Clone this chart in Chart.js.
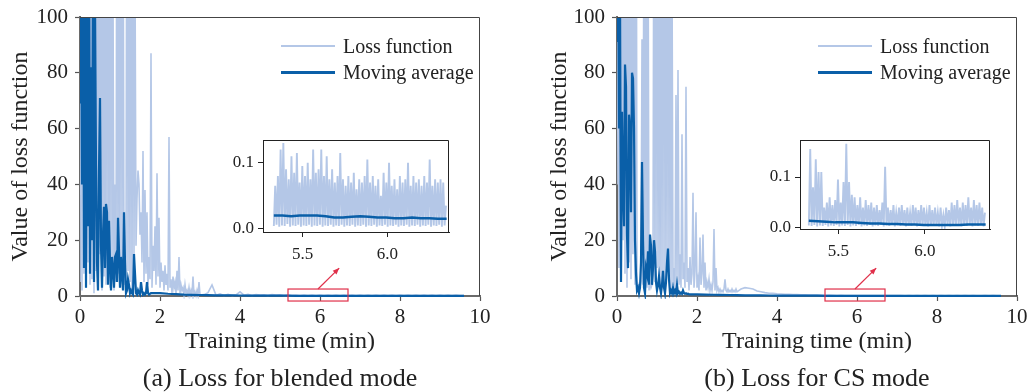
<!DOCTYPE html>
<html>
<head>
<meta charset="utf-8">
<script src="https://cdn.jsdelivr.net/npm/chart.js@4.4.1/dist/chart.umd.min.js"></script>
<style>
  body { margin: 0; background: #fff; }
  #wrap { position: relative; width: 1029px; height: 392px; overflow: hidden; font-family: 'Liberation Serif', 'Times New Roman', serif; color: #222; }
  canvas { position: absolute; }
  .leg { position: absolute; display: flex; align-items: center; height: 26px; font-size: 20px; white-space: nowrap; }
  .leg span.ln { display: inline-block; width: 54px; margin-right: 8px; }
  .cap { position: absolute; top: 364px; width: 400px; text-align: center; font-size: 26px; line-height: 28px; white-space: nowrap; }
</style>
</head>
<body>
<div id="wrap">
  <canvas id="mainA" width="510" height="392" style="left:0;top:0"></canvas>
  <canvas id="mainB" width="492" height="392" style="left:537px;top:0"></canvas>
  <canvas id="insetA" width="236" height="136" style="left:222px;top:132px"></canvas>
  <canvas id="insetB" width="240" height="136" style="left:759px;top:132px"></canvas>

  <div class="leg" style="left:281px;top:33px"><span class="ln" style="height:1.5px;background:#b4c7e7"></span>Loss function</div>
  <div class="leg" style="left:281px;top:59px"><span class="ln" style="height:3px;background:#0a5fa8"></span>Moving average</div>
  <div class="leg" style="left:818px;top:33px"><span class="ln" style="height:1.5px;background:#b4c7e7"></span>Loss function</div>
  <div class="leg" style="left:818px;top:59px"><span class="ln" style="height:3px;background:#0a5fa8"></span>Moving average</div>

  <div class="cap" style="left:80px">(a) Loss for blended mode</div>
  <div class="cap" style="left:617px">(b) Loss for CS mode</div>
</div>
<script>
// ---- data (training time in minutes, loss values) ----
// dense part: samples every 0.025 min from t = 0
const denseStart = 0;
const denseStep = 0.025;
// tail of the loss curves: every 0.1 min from 3.1 min
const lossTailStart = 3.1;
const lossTailStep = 0.1;
// tail of the moving averages: every 0.2 min from 2.0 min
const avgTailStart = 2.0;
const avgTailStep = 0.2;

const lossA = [
  5, 180, 2, 240, 8, 150, 3, 210, 12, 320, 4, 190, 6, 260, 1, 170, 9, 230, 3, 140,
  15, 280, 2, 200, 7, 160, 4, 250, 10, 130, 3, 220, 6, 110, 2, 40, 5, 190, 8, 150,
  3, 240, 12, 170, 4, 8, 6, 210, 9, 130, 5, 180, 2, 160, 14, 120,
  18, 35, 45, 40, 22, 30, 12, 52, 5, 38, 8, 30, 4, 14, 6, 87, 3, 18, 9, 25,
  4, 44, 7, 28, 3, 12, 5, 9, 2, 11, 4, 8, 2, 57, 3, 6, 1, 7, 3, 5,
  1, 9, 2, 14, 1, 4, 2, 3, 0.5, 4, 1, 2, 0.5, 3, 0.3, 2, 0.5, 7, 0.3, 1.5,
  0.2, 2, 0.3, 5, 0.3
];
const lossTailA = [
  0.5, 1.2, 4, 0.3, 0.8, 0.2, 0.6, 0.2, 0.4, 1.5,
  0.3, 0.6, 0.2, 0.5, 0.3, 0.4, 0.2, 0.5, 0.3, 0.4,
  0.2, 0.3, 0.2, 0.3, 0.2, 0.3, 0.2, 0.3, 0.2, 0.3,
  0.2, 0.3, 0.2, 0.3, 0.2, 0.3, 0.2, 0.3, 0.2, 0.3,
  0.2, 0.3, 0.2, 0.3, 0.2, 0.3, 0.2, 0.3, 0.2, 0.3,
  0.2, 0.3, 0.2, 0.3, 0.2, 0.3, 0.2, 0.3, 0.2, 0.3,
  0.2, 0.3, 0.2, 0.3, 0.2, 0.2
];
const avgA = [
  69, 120, 40, 150, 10, 130, 3, 110, 25, 140,
  8, 82, 20, 120, 5, 105, 47, 12, 2, 45,
  71, 18, 3, 22, 32, 10, 33, 30, 4, 27,
  12, 2, 14, 10, 3, 14, 15, 5, 28, 16,
  3, 14, 8, 2, 30, 12, 1, 2, 6, 4,
  1, 2, 1, 0.5, 15, 8, 1, 0.5, 2, 1,
  0.5, 5, 2, 0.5, 1, 0.5, 1, 5, 1, 0.5,
  0.8, 1, 1
];
const avgTailA = [
  1.0, 0.8, 0.7, 0.5, 0.4, 0.35, 0.3, 0.25, 0.2, 0.2,
  0.18, 0.15, 0.15, 0.12, 0.1, 0.1, 0.1, 0.08, 0.08, 0.08,
  0.07, 0.07, 0.06, 0.06, 0.06, 0.05, 0.05, 0.05, 0.05, 0.04,
  0.04, 0.04, 0.04, 0.03, 0.03, 0.03, 0.03, 0.03, 0.03
];

const lossB = [
  40, 200, 10, 260, 5, 180, 20, 300, 8, 210, 3, 170, 12, 240, 6, 190, 15, 150, 4, 220,
  3, 2, 4, 3, 5, 92, 4, 160, 6, 230, 3, 140, 2, 5, 3, 4, 8, 180, 5, 250,
  10, 170, 4, 130, 3, 200, 9, 260, 4, 150, 12, 210, 6, 170, 3, 120,
  4, 10, 3, 72, 5, 81, 4, 15, 3, 58, 6, 12, 3, 75, 5, 10, 2, 14, 4, 8,
  37, 3, 9, 30, 3, 6, 2, 21, 4, 8, 22, 3, 12, 2, 5, 3, 6, 2, 4, 2,
  5, 24, 2, 10, 2, 3, 1.5, 2.5, 1.5, 2, 1.5, 2.5, 6, 2, 1.5, 2.5, 1.5, 2, 1.5, 2.5,
  1.5, 2, 1.5, 2.5, 1.5
];
const lossTailB = [
  2.5, 3, 2.8, 2.5, 1.8, 1.5, 1.2, 1.0, 1.0, 0.8,
  0.7, 0.6, 0.6, 0.5, 0.5, 0.4, 0.4, 0.35, 0.3, 0.3,
  0.3, 0.25, 0.3, 0.25, 0.2, 0.25, 0.2, 0.2, 0.2, 0.2,
  0.2, 0.15, 0.2, 0.15, 0.2, 0.15, 0.2, 0.15, 0.2, 0.15,
  0.15, 0.1, 0.15, 0.1, 0.15, 0.1, 0.15, 0.1, 0.15, 0.1,
  0.15, 0.1, 0.15, 0.1, 0.15, 0.1, 0.15, 0.1, 0.15, 0.1,
  0.1, 0.15, 0.1, 0.15, 0.1, 0.1
];
const avgB = [
  91, 130, 60, 110, 5, 66, 40, 25, 83, 75,
  22, 10, 65, 60, 30, 80, 78, 60, 20, 8,
  2, 3, 1, 3, 12, 48, 20, 3, 1, 10,
  8, 16, 4, 22, 18, 4, 10, 20, 16, 5,
  2, 4, 7, 3, 1, 4, 9, 3, 1, 5,
  12, 17, 6, 1, 2, 1, 3, 1, 2, 1,
  4, 1, 1.5, 0.8, 1.2, 0.8, 2, 1, 0.8, 1,
  0.7, 0.8, 0.6
];
const avgTailB = [
  0.6, 0.5, 0.45, 0.4, 0.35, 0.3, 0.25, 0.2, 0.2, 0.18,
  0.15, 0.15, 0.12, 0.1, 0.1, 0.1, 0.08, 0.08, 0.08, 0.07,
  0.07, 0.06, 0.06, 0.06, 0.05, 0.05, 0.05, 0.05, 0.04, 0.04,
  0.04, 0.04, 0.03, 0.03, 0.03, 0.03, 0.03, 0.03, 0.03
];

// zoomed window 5.33 - 6.35 min
const insetStart = 5.33;
const insetStep = 0.008;
const insetAvgStep = 0.051;
const insetLossA = [
  0.004, 0.065, 0.006, 0.08, 0.003, 0.12, 0.005, 0.13, 0.004, 0.09, 0.007, 0.075, 0.003, 0.11, 0.005, 0.085,
  0.004, 0.115, 0.006, 0.07, 0.003, 0.095, 0.005, 0.08, 0.004, 0.1, 0.006, 0.075, 0.003, 0.12, 0.005, 0.085,
  0.004, 0.09, 0.006, 0.12, 0.003, 0.08, 0.005, 0.11, 0.004, 0.075, 0.006, 0.09, 0.003, 0.07, 0.005, 0.08,
  0.004, 0.115, 0.006, 0.075, 0.003, 0.065, 0.005, 0.08, 0.004, 0.07, 0.006, 0.085, 0.003, 0.06, 0.005, 0.075,
  0.004, 0.07, 0.006, 0.08, 0.003, 0.105, 0.005, 0.07, 0.004, 0.08, 0.006, 0.065, 0.003, 0.075, 0.005, 0.05,
  0.004, 0.085, 0.006, 0.07, 0.003, 0.1, 0.005, 0.065, 0.004, 0.075, 0.006, 0.06, 0.003, 0.08, 0.005, 0.07,
  0.004, 0.075, 0.006, 0.1, 0.003, 0.065, 0.005, 0.08, 0.004, 0.07, 0.006, 0.075, 0.003, 0.065, 0.005, 0.08,
  0.004, 0.07, 0.006, 0.105, 0.003, 0.065, 0.005, 0.075, 0.004, 0.07, 0.006, 0.075, 0.003, 0.07, 0.005, 0.035
];
const insetAvgA = [
  0.020, 0.020, 0.019, 0.020, 0.020, 0.020, 0.019, 0.017, 0.017, 0.018, 0.019,
  0.018, 0.017, 0.017, 0.016, 0.016, 0.017, 0.016, 0.016, 0.015, 0.015
];
const insetLossB = [
  0.005, 0.155, 0.004, 0.08, 0.006, 0.135, 0.003, 0.11, 0.005, 0.11, 0.004, 0.04, 0.006, 0.05, 0.003, 0.06,
  0.005, 0.045, 0.004, 0.055, 0.006, 0.095, 0.003, 0.05, 0.005, 0.09, 0.004, 0.165, 0.006, 0.09, 0.003, 0.065,
  0.005, 0.06, 0.004, 0.045, 0.006, 0.06, 0.003, 0.04, 0.005, 0.055, 0.004, 0.045, 0.006, 0.05, 0.003, 0.04,
  0.005, 0.045, 0.004, 0.035, 0.006, 0.05, 0.003, 0.12, 0.005, 0.04, 0.004, 0.035, 0.006, 0.045, 0.003, 0.03,
  0.005, 0.04, 0.004, 0.045, 0.006, 0.035, 0.003, 0.04, 0.005, 0.03, 0.004, 0.045, 0.006, 0.04, 0.003, 0.035,
  0.005, 0.045, 0.004, 0.04, 0.006, 0.03, 0.003, 0.045, 0.005, 0.035, 0.004, 0.04, 0.006, 0.03, 0.003, 0.04,
  0.005, 0.025, 0.004, 0.04, 0.006, 0.035, 0.003, 0.05, 0.005, 0.045, 0.004, 0.055, 0.006, 0.04, 0.003, 0.05,
  0.005, 0.045, 0.004, 0.06, 0.006, 0.04, 0.003, 0.055, 0.005, 0.045, 0.004, 0.05, 0.006, 0.04, 0.003, 0.03
];
const insetAvgB = [
  0.014, 0.013, 0.012, 0.011, 0.011, 0.011, 0.010, 0.009, 0.009, 0.008, 0.008,
  0.007, 0.007, 0.006, 0.006, 0.006, 0.006, 0.006, 0.007, 0.007, 0.007
];

const xTicksMain = [0, 2, 4, 6, 8, 10];
const yTicksMain = [0, 20, 40, 60, 80, 100];
const xTicksInset = [5.5, 6.0];
const yTicksInset = [0.0, 0.1];
const zoomWindow = [5.2, 6.7];

// ---- styling ----
const FONT = "'Liberation Serif', 'Times New Roman', serif";
const LIGHT = '#b4c7e7';
const DARK = '#0a5fa8';
const INK = '#222';
Chart.defaults.font.family = FONT;
Chart.defaults.color = INK;

function toPoints(start, step, values) {
  return values.map((v, i) => ({ x: start + i * step, y: v }));
}

// stop Chart.js from reserving room for half tick labels
function noEdgePadding(s) {
  s.paddingTop = 0; s.paddingBottom = 0; s.paddingLeft = 0; s.paddingRight = 0;
}

// top and right edges of the axes box
const frame = {
  id: 'frame',
  beforeDraw(chart, args, opts) {
    if (!opts.fill) return;
    const a = chart.chartArea;
    chart.ctx.save();
    chart.ctx.fillStyle = '#fff';
    chart.ctx.fillRect(a.left, a.top, a.right - a.left, a.bottom - a.top);
    chart.ctx.restore();
  },
  afterDraw(chart, args, opts) {
    const a = chart.chartArea;
    const ctx = chart.ctx;
    ctx.save();
    ctx.strokeStyle = opts.color || '#444';
    ctx.lineWidth = opts.width || 1;
    ctx.beginPath();
    ctx.moveTo(a.left, a.top + 0.5);
    ctx.lineTo(a.right - 0.5, a.top + 0.5);
    ctx.lineTo(a.right - 0.5, a.bottom);
    ctx.stroke();
    ctx.restore();
  }
};

// red box around the zoomed window and the arrow pointing to the inset
const zoomMark = {
  id: 'zoomMark',
  afterDraw(chart) {
    const xs = chart.scales.x, ys = chart.scales.y;
    const ctx = chart.ctx;
    const x0 = xs.getPixelForValue(zoomWindow[0]);
    const x1 = xs.getPixelForValue(zoomWindow[1]);
    const y0 = ys.getPixelForValue(2.5);
    const y1 = ys.getPixelForValue(-1.8);
    ctx.save();
    ctx.strokeStyle = '#e0304a';
    ctx.fillStyle = '#e0304a';
    ctx.lineWidth = 1.2;
    ctx.strokeRect(x0, y0, x1 - x0, y1 - y0);
    const ax = xs.getPixelForValue(5.95), ay = y0;
    const bx = xs.getPixelForValue(6.48), by = ys.getPixelForValue(10);
    ctx.beginPath();
    ctx.moveTo(ax, ay);
    ctx.lineTo(bx, by);
    ctx.stroke();
    const ang = Math.atan2(by - ay, bx - ax);
    ctx.beginPath();
    ctx.moveTo(bx, by);
    ctx.lineTo(bx - 7 * Math.cos(ang - 0.4), by - 7 * Math.sin(ang - 0.4));
    ctx.lineTo(bx - 7 * Math.cos(ang + 0.4), by - 7 * Math.sin(ang + 0.4));
    ctx.closePath();
    ctx.fill();
    ctx.restore();
  }
};

function mainChart(id, loss, lossTail, avg, avgTail, padRight, titleOffset) {
  const ctx = document.getElementById(id).getContext('2d');
  return new Chart(ctx, {
    type: 'line',
    data: {
      datasets: [
        {
          label: 'Moving average',
          data: toPoints(denseStart, denseStep, avg).concat(toPoints(avgTailStart, avgTailStep, avgTail)),
          borderColor: DARK, borderWidth: 2.2, order: 0
        },
        {
          label: 'Loss function',
          data: toPoints(denseStart, denseStep, loss).concat(toPoints(lossTailStart, lossTailStep, lossTail)),
          borderColor: LIGHT, borderWidth: 1.6, order: 1
        }
      ]
    },
    options: {
      responsive: false,
      animation: false,
      events: [],
      devicePixelRatio: 1,
      layout: { padding: { left: 0, right: padRight, top: 17, bottom: 0 } },
      elements: { point: { radius: 0 }, line: { tension: 0 } },
      datasets: { line: { clip: { left: 0, top: 0, right: 0, bottom: 3 } } },
      plugins: { legend: { display: false }, tooltip: { enabled: false }, frame: { color: '#444', width: 1 } },
      scales: {
        x: {
          type: 'linear', min: 0, max: 10,
          afterBuildTicks: s => { s.ticks = xTicksMain.map(v => ({ value: v })); },
          afterFit: s => { s.height = 96; noEdgePadding(s); },
          ticks: { font: { size: 21 }, color: INK, padding: 4, maxRotation: 0 },
          grid: { drawOnChartArea: false, tickLength: 5, color: '#555', tickWidth: 1.2 },
          border: { color: '#6a6a6a', width: 2 },
          title: { display: true, text: 'Training time (min)', font: { size: 24 }, color: INK, padding: { top: 0, bottom: 36 } }
        },
        y: {
          type: 'linear', min: 0, max: 100,
          afterBuildTicks: s => { s.ticks = yTicksMain.map(v => ({ value: v })); },
          afterFit: s => { s.width = 80; noEdgePadding(s); },
          ticks: { font: { size: 21 }, color: INK, padding: 7 },
          grid: { drawOnChartArea: false, tickLength: 5, color: '#555', tickWidth: 1.2 },
          border: { color: '#6a6a6a', width: 2 },
          title: { display: true, text: 'Value of loss function', font: { size: 24 }, color: INK, padding: { top: titleOffset, bottom: 0 } }
        }
      }
    },
    plugins: [frame, zoomMark]
  });
}

function insetChart(id, loss, avg, xMin, xMax, yMin, yMax, padRight, xHeight) {
  const ctx = document.getElementById(id).getContext('2d');
  return new Chart(ctx, {
    type: 'line',
    data: {
      datasets: [
        { label: 'Moving average', data: toPoints(insetStart, insetAvgStep, avg), borderColor: DARK, borderWidth: 2.5, order: 0 },
        { label: 'Loss function', data: toPoints(insetStart, insetStep, loss), borderColor: LIGHT, borderWidth: 1.9, order: 1 }
      ]
    },
    options: {
      responsive: false,
      animation: false,
      events: [],
      devicePixelRatio: 1,
      layout: { padding: { left: 0, right: padRight, top: 8, bottom: 0 } },
      elements: { point: { radius: 0 }, line: { tension: 0 } },
      plugins: { legend: { display: false }, tooltip: { enabled: false }, frame: { color: '#222', width: 1, fill: true } },
      scales: {
        x: {
          type: 'linear', min: xMin, max: xMax,
          afterBuildTicks: s => { s.ticks = xTicksInset.map(v => ({ value: v })); },
          afterFit: s => { s.height = xHeight; noEdgePadding(s); },
          ticks: { font: { size: 17 }, color: INK, padding: 7, maxRotation: 0, callback: v => v.toFixed(1) },
          grid: { drawOnChartArea: false, tickLength: 5, color: '#222' },
          border: { color: '#222', width: 1 }
        },
        y: {
          type: 'linear', min: yMin, max: yMax,
          afterBuildTicks: s => { s.ticks = yTicksInset.map(v => ({ value: v })); },
          afterFit: s => { s.width = 41; noEdgePadding(s); },
          ticks: { font: { size: 17 }, color: INK, padding: 4, callback: v => v.toFixed(1) },
          grid: { drawOnChartArea: false, tickLength: 5, color: '#222' },
          border: { color: '#222', width: 1 }
        }
      }
    },
    plugins: [frame]
  });
}

mainChart('mainA', lossA, lossTailA, avgA, avgTailA, 30, 6);
mainChart('mainB', lossB, lossTailB, avgB, avgTailB, 12, 8);
insetChart('insetA', insetLossA, insetAvgA, 5.266, 6.364, -0.005, 0.1346, 9, 36);
insetChart('insetB', insetLossB, insetAvgB, 5.279, 6.375, -0.002, 0.1726, 9, 39);
</script>
</body>
</html>
